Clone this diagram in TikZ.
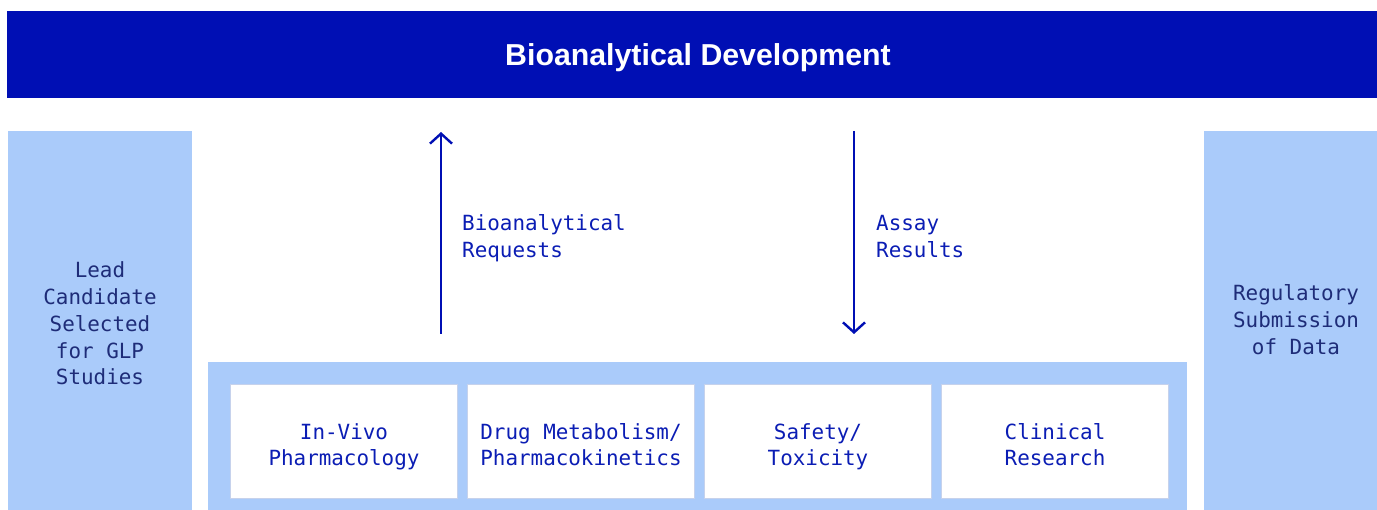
\documentclass[tikz,border=0pt]{standalone}
\usepackage{fontspec}
\setmainfont{Liberation Sans}
\setmonofont{DejaVu Sans Mono}
\usetikzlibrary{arrows.meta}
\definecolor{barblue}{HTML}{000FB4}
\definecolor{lightblue}{HTML}{AACBFA}
\definecolor{boxline}{HTML}{C6D2EC}
\definecolor{inktext}{HTML}{0B1DB4}
\definecolor{navytext}{HTML}{1E2C78}
\newcommand{\ls}{\rule[-8pt]{0pt}{26.7pt}}
\begin{document}
\begin{tikzpicture}[x=1pt,y=-1pt,
  mono/.style={font=\fontsize{20.9}{26.7}\selectfont\ttfamily, align=center, inner sep=0pt},
  panel/.style={fill=lightblue, draw=none, inner sep=0pt},
  areabox/.style={fill=white, draw=boxline, line width=1pt, inner sep=0pt,
     minimum width=226.5pt, minimum height=114.5pt},
  boxtext/.style={mono, text=inktext},
  sidetext/.style={mono, text=navytext},
  flow/.style={draw=barblue, line width=2.4pt,
     -{Straight Barb[length=10pt, width=22pt, line width=2.4pt]}},
  flowlabel/.style={mono, text=inktext, align=left, anchor=west}]
\useasboundingbox (0,0) rectangle (1377,510);
% title bar
\node[fill=barblue, inner sep=0pt, minimum width=1382pt, minimum height=87pt] (bar) at (698,54.5) {};
\node[anchor=base, text=white, inner sep=0pt, font=\fontsize{30.3}{34}\selectfont\bfseries] (title) at (698,66) {Bioanalytical Development};
% side panels
\node[panel, minimum width=184pt, minimum height=390pt] (lead) at (100,326) {};
\node[sidetext] (leadtxt) at (100,326) {\ls Lead\\\ls Candidate\\\ls Selected\\\ls for GLP\\\ls Studies};
\node[panel, minimum width=184pt, minimum height=390pt] (reg) at (1296,326) {};
\node[sidetext] (regtxt) at (1296,322) {\ls Regulatory\\\ls Submission\\\ls of Data};
% bottom container
\node[panel, minimum width=979pt, minimum height=159pt] (cont) at (697.5,441.5) {};
\node[areabox] (b1) at (344,441.3) {};
\node[areabox] (b2) at (581,441.3) {};
\node[areabox] (b3) at (818,441.3) {};
\node[areabox] (b4) at (1055,441.3) {};
\node[boxtext] (t1) at (344,447.3) {\ls In-Vivo\\\ls Pharmacology};
\node[boxtext] (t2) at (581,447.3) {\ls Drug Metabolism/\\\ls Pharmacokinetics};
\node[boxtext] (t3) at (818,447.3) {\ls Safety/\\\ls Toxicity};
\node[boxtext] (t4) at (1055,447.3) {\ls Clinical\\\ls Research};
% arrows
\coordinate (upstart) at (441,334);
\coordinate (upend) at (441,132);
\coordinate (downstart) at (854,131);
\coordinate (downend) at (854,334);
\draw[flow] (upstart) -- (upend);
\draw[flow] (downstart) -- (downend);
\node[flowlabel] (reqlbl) at (462,239) {\ls Bioanalytical\\\ls Requests};
\node[flowlabel] (reslbl) at (876,239) {\ls Assay\\\ls Results};
\end{tikzpicture}
\end{document}
